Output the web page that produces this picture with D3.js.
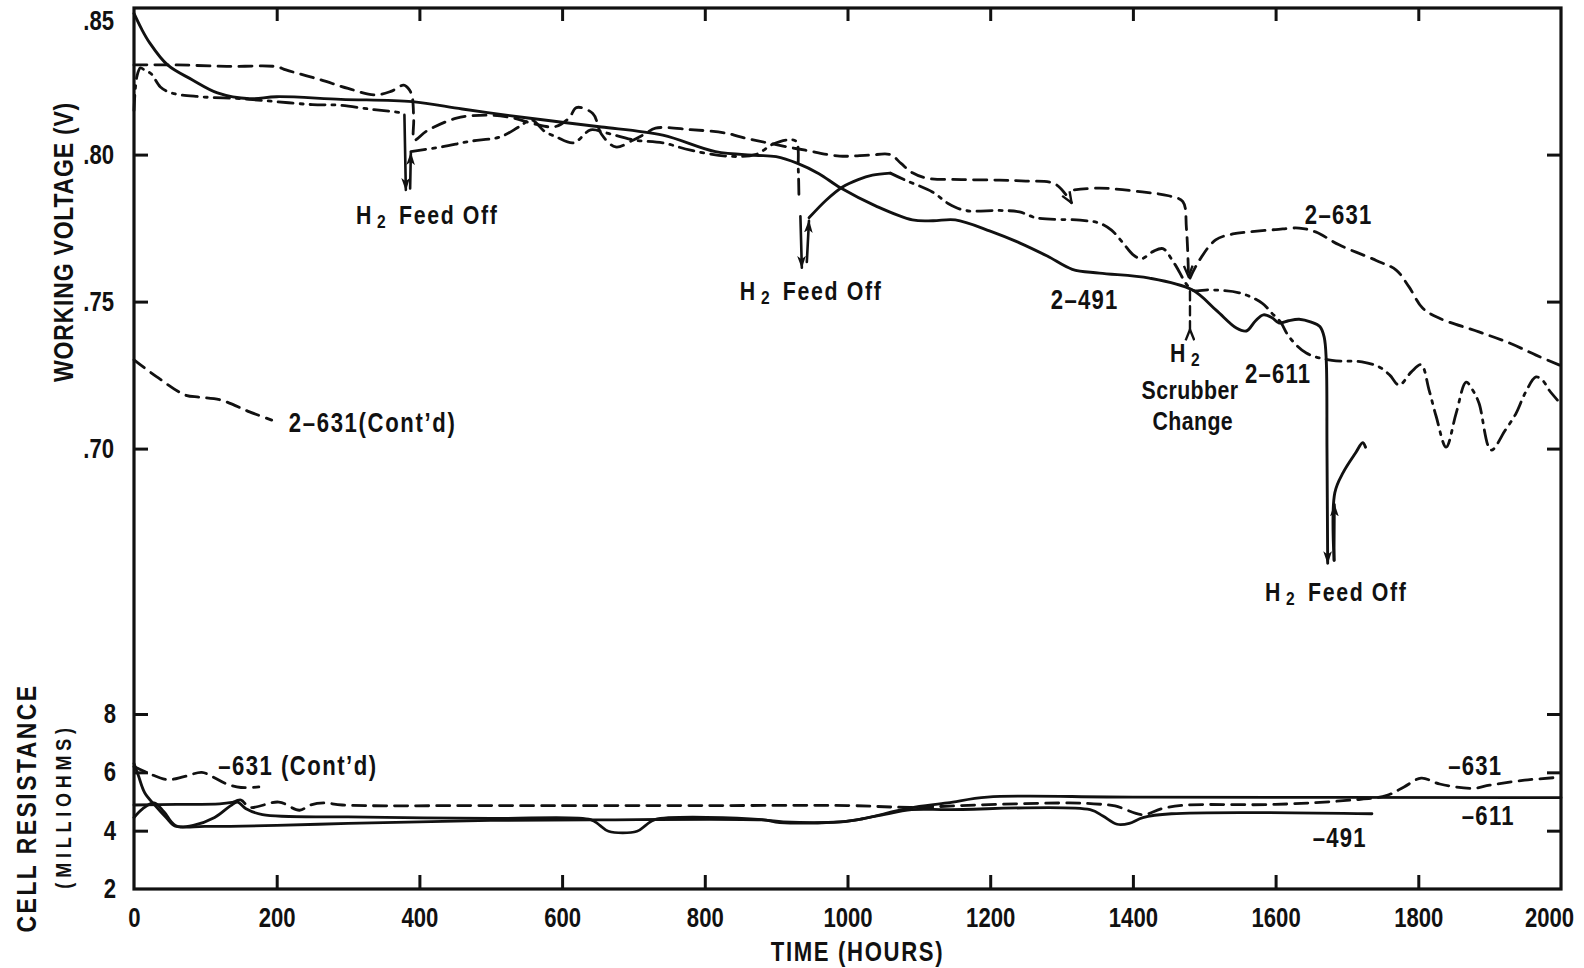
<!DOCTYPE html>
<html><head><meta charset="utf-8">
<script src="https://cdn.jsdelivr.net/npm/d3@7"></script>
<style>
body{margin:0;background:#fff;}
svg text{font-family:"Liberation Sans",Arial,Helvetica,sans-serif;font-weight:bold;fill:#111;}
</style></head><body>
<svg id="c" width="1584" height="968"></svg>
<script>
// ---------- tick values ----------
const hourTicks = [0,200,400,600,800,1000,1200,1400,1600,1800,2000];
const innerHourTicks = [200,400,600,800,1000,1200,1400,1600,1800];
const voltTicks = [0.85,0.80,0.75,0.70];
const resTicks = [2,4,6,8];

// ---------- working voltage (hours, volts) ----------
const v491a = [[0,.848],[10,.843],[22,.838],[47,.8305],[82,.8254],[117,.821],[162,.819],[200,.8197],[290,.8188],[390,.818],[460,.8155],[541,.8128],[600,.811],[655,.8094],[741,.8066],[815,.801],[870,.7998],[900,.7993],[930,.797],[960,.7935],[990,.7887],[1040,.7825],[1091,.7778],[1120,.7775],[1151,.7778],[1200,.774],[1241,.770],[1280,.7655],[1315,.761],[1353,.7597],[1423,.758],[1483,.754],[1517,.747],[1545,.741],[1559,.740],[1572,.7435],[1583,.7455],[1595,.7445],[1605,.7427],[1618,.7435],[1633,.744],[1650,.743],[1662,.7415],[1668,.738],[1671,.730],[1672,.70],[1673,.661]];
const v491b = [[1682,.662],[1683,.685],[1695,.692],[1712,.6985],[1722,.702],[1726,.7005]];

const v611a = [[0,.815],[4,.8265],[9,.8295],[16,.8285],[24,.8275],[37,.823],[52,.821],[92,.8197],[150,.819],[200,.818],[250,.817],[288,.8168],[330,.8155],[363,.8146],[378,.8142]];
const v611b = [[388,.801],[433,.8027],[470,.8045],[513,.806],[540,.8095],[557,.8118],[575,.808],[592,.806],[616,.804],[640,.8084],[660,.8075],[700,.805],[741,.804],[780,.8015],[830,.7995],[871,.800],[895,.8035],[916,.805],[928,.8045],[931,.795],[932,.7846]];
const v611c = [[946,.7785],[970,.7845],[993,.789],[1015,.7915],[1035,.793],[1060,.7937]];
const v611d = [[1060,.7937],[1081,.7913],[1119,.7873],[1141,.7834],[1165,.781],[1213,.781],[1241,.7805],[1266,.7784],[1326,.7777],[1353,.7767],[1370,.7743],[1386,.770],[1400,.766],[1412,.7646],[1428,.767],[1442,.768],[1458,.763],[1483,.754],[1507,.754],[1549,.753],[1581,.7495],[1595,.746],[1607,.743],[1619,.738],[1643,.7325],[1679,.730],[1721,.7295],[1745,.7278],[1760,.725],[1773,.7216],[1790,.726],[1804,.7285],[1815,.72],[1825,.711],[1839,.7005],[1853,.712],[1867,.7226],[1876,.72],[1885,.7155],[1902,.6995],[1922,.7063],[1937,.712],[1950,.719],[1965,.7244],[1975,.723],[1983,.720],[1995,.7165]];

const v631a = [[0,.8305],[60,.8305],[130,.830],[200,.8299],[213,.8288],[262,.8254],[300,.8225],[338,.8203],[360,.8215],[378,.8236],[386,.822],[390,.8195],[392,.812],[393,.805],[410,.808],[452,.8124],[494,.8134],[530,.8125],[560,.8105],[590,.8095],[610,.8125],[620,.816],[643,.814],[655,.807],[675,.8026],[700,.805],[716,.807],[731,.809],[780,.8085],[830,.8073],[850,.806],[916,.8026],[941,.8015],[989,.7995],[1030,.7998],[1060,.80],[1075,.797],[1091,.7938],[1111,.792],[1160,.7915],[1213,.7913],[1250,.791],[1291,.790],[1314,.7836]];
const v631b = [[1318,.788],[1353,.7886],[1413,.7873],[1450,.786],[1470,.784],[1475,.775],[1478,.7585]];
const v631c = [[1480,.758],[1493,.764],[1516,.771],[1540,.773],[1563,.7737],[1600,.7745],[1633,.775],[1656,.7737],[1689,.7693],[1741,.764],[1769,.7607],[1787,.755],[1806,.7478],[1829,.7444],[1885,.7397],[1927,.736],[1965,.7318],[1998,.7284]];
const v631cont = [[0,.7302],[32,.7244],[72,.7182],[92,.7175],[122,.7165],[162,.7125],[193,.7097]];

// event arrows (hours, volts)
const feedOff1Down = [[379,.8135],[381,.788]];
const feedOff1Up = [[387,.7885],[388,.8005]];
const feedOff2Down = [[934,.779],[936,.7615]];
const feedOff2Up = [[943,.7635],[946,.7775]];
const feedOff3Up = [[1682,.662],[1682.5,.681]];
const scrubberMark = [[1480,.7535],[1480,.7405]];

// ---------- cell resistance (hours, milliohms) ----------
const r491 = [[0,6.3],[6,5.9],[15,5.3],[30,4.85],[45,4.45],[58,4.15],[83,4.18],[113,4.45],[135,4.85],[145,4.98],[157,4.75],[180,4.55],[300,4.47],[500,4.42],[640,4.38],[652,4.2],[665,3.98],[705,3.98],[718,4.2],[730,4.38],[880,4.38],[905,4.28],[990,4.3],[1040,4.5],[1090,4.72],[1141,4.72],[1340,4.72],[1358,4.5],[1378,4.22],[1395,4.25],[1414,4.45],[1454,4.58],[1735,4.58]];
const r611 = [[0,4.45],[12,4.75],[28,4.95],[42,4.65],[58,4.18],[100,4.15],[200,4.18],[300,4.25],[400,4.3],[500,4.35],[640,4.37],[880,4.37],[910,4.3],[990,4.3],[1020,4.4],[1086,4.77],[1140,4.95],[1196,5.15],[1400,5.15],[2000,5.13]];
const r631start = [[0,4.88],[60,4.9],[120,4.92],[140,4.98]];
const r631 = [[140,4.98],[150,5.05],[162,4.8],[203,4.98],[232,4.7],[247,4.88],[267,4.95],[292,4.88],[500,4.86],[800,4.86],[1000,4.86],[1090,4.8],[1180,4.88],[1310,4.95],[1345,4.92],[1375,4.85],[1414,4.55],[1440,4.75],[1470,4.87],[1600,4.9],[1706,5.05],[1755,5.2],[1780,5.5],[1804,5.8],[1830,5.6],[1876,5.45],[1900,5.56],[1949,5.73],[1998,5.83]];
const r631cont = [[0,6.2],[22,5.95],[47,5.75],[70,5.85],[95,6.0],[110,5.85],[130,5.6],[150,5.48],[175,5.5]];

// ---------- drawing ----------
const SX = 0.82; // condensed lettering
const svg = d3.select("#c");
const L = 134, R = 1561, T = 8, B = 889;
const x = d3.scaleLinear().domain([0,2000]).range([L,R]);
const yV = d3.scaleLinear().domain([0.70,0.85]).range([448.6,7.6]);
const yR = d3.scaleLinear().domain([2,8]).range([B,714]);

function narrow(sel, rot){
  sel.each(function(){
    const t = d3.select(this);
    const px = +t.attr("x")||0, py = +t.attr("y")||0;
    t.attr("x",null).attr("y",null)
     .attr("transform",`translate(${px},${py})${rot?` rotate(${rot})`:""} scale(${SX},1)`);
  });
}

const defs = svg.append("defs");
function marker(id, orient, open){
  const m = defs.append("marker").attr("id",id).attr("viewBox","0 0 12 10")
    .attr("refX",11).attr("refY",5).attr("markerWidth",13).attr("markerHeight",11)
    .attr("markerUnits","userSpaceOnUse").attr("orient",orient);
  if(open) m.append("path").attr("d","M1,1 L11,5 L1,9").attr("fill","none").attr("stroke","#111").attr("stroke-width",2.2);
  else m.append("path").attr("d","M0,1 L12,5 L0,9 L3,5 Z").attr("fill","#111");
}
marker("arrow","auto",false);
marker("openArrow","auto",true);
marker("upArrow","-90",true);

const lineV = d3.line().x(d=>x(d[0])).y(d=>yV(d[1])).curve(d3.curveCatmullRom.alpha(0.5));
const lineR = d3.line().x(d=>x(d[0])).y(d=>yR(d[1])).curve(d3.curveCatmullRom.alpha(0.5));
const DASH = "13,8", DASHDOT = "15,7,3,7";

function draw(data, gen, dash, w, mk){
  const p = svg.append("path").attr("d", gen(data)).attr("fill","none")
    .attr("stroke","#111").attr("stroke-width", w||2.8)
    .attr("stroke-linejoin","round").attr("stroke-linecap","round");
  if(dash) p.attr("stroke-dasharray", dash);
  if(mk) p.attr("marker-end", "url(#"+mk+")");
  return p;
}

// frame
svg.append("rect").attr("x",L).attr("y",T).attr("width",R-L).attr("height",B-T)
  .attr("fill","none").attr("stroke","#111").attr("stroke-width",3.2);

// axes
function styleAxis(g){
  g.select(".domain").remove();
  g.selectAll(".tick line").attr("stroke","#111").attr("stroke-width",3);
  g.selectAll(".tick text").attr("font-size",27).attr("fill","#111");
}
const gx = svg.append("g").attr("transform",`translate(0,${B})`)
  .call(d3.axisBottom(x).tickValues(hourTicks).tickSize(-14).tickPadding(19).tickFormat(d3.format("d")));
styleAxis(gx);
gx.selectAll(".tick").filter(d=>d===0||d===2000).select("line").remove();
gx.selectAll(".tick").filter(d=>d===2000).select("text").attr("x",-12);
narrow(gx.selectAll(".tick text"));
svg.append("g").attr("transform",`translate(0,${T})`)
  .call(d3.axisTop(x).tickValues(innerHourTicks).tickSize(-13).tickFormat("")).call(styleAxis);

const gyV = svg.append("g").attr("transform",`translate(${L},0)`)
  .call(d3.axisLeft(yV).tickValues(voltTicks).tickSize(-14).tickPadding(20).tickFormat(d=>d3.format(".2f")(d).replace(/^0/,"")));
styleAxis(gyV);
gyV.selectAll(".tick").filter(d=>d===0.85).select("text").attr("y",13);
gyV.selectAll(".tick").filter(d=>d===0.85).select("line").remove();
narrow(gyV.selectAll(".tick text"));
const gyR = svg.append("g").attr("transform",`translate(${L},0)`)
  .call(d3.axisLeft(yR).tickValues(resTicks).tickSize(-14).tickPadding(18).tickFormat(d3.format("d")));
styleAxis(gyR);
gyR.selectAll(".tick").filter(d=>d===2).select("line").remove();
narrow(gyR.selectAll(".tick text"));
svg.append("g").attr("transform",`translate(${R},0)`)
  .call(d3.axisRight(yV).tickValues(voltTicks.slice(1)).tickSize(-14).tickFormat("")).call(styleAxis);
svg.append("g").attr("transform",`translate(${R},0)`)
  .call(d3.axisRight(yR).tickValues([4,6,8]).tickSize(-14).tickFormat("")).call(styleAxis);

// voltage curves
draw(v491a, lineV, null, 2.9, "arrow");
draw(v491b, lineV, null, 2.9);
draw(feedOff3Up, lineV, null, 2.6, "arrow");
draw(v611a, lineV, DASHDOT);
draw(feedOff1Down, lineV, null, 2.6, "arrow");
draw(feedOff1Up, lineV, null, 2.6, "arrow");
draw(v611b, lineV, DASHDOT);
draw(feedOff2Down, lineV, null, 2.6, "arrow");
draw(feedOff2Up, lineV, null, 2.6, "arrow");
draw(v611c, lineV, null, 2.8);
draw(v611d, lineV, DASHDOT);
draw(v631a, lineV, DASH, 2.8, "openArrow");
draw(v631b, lineV, DASH, 2.8, "openArrow");
draw(v631c, lineV, DASH);
draw(v631cont, lineV, DASH);
draw(scrubberMark, lineV, "9,6", 2.4, "upArrow");

// resistance curves
draw(r491, lineR, null, 2.8);
draw(r611, lineR, null, 2.8);
draw(r631start, lineR, null, 2.8);
draw(r631, lineR, DASH);
draw(r631cont, lineR, DASH);

// ---------- text ----------
function label(txt, px, py, opts={}){
  const t = svg.append("text").attr("x",px).attr("y",py)
    .attr("font-size", opts.size||27).attr("letter-spacing", opts.ls==null?1.5:opts.ls)
    .attr("text-anchor", opts.anchor||"start").text(txt);
  narrow(t, opts.rot);
  return t;
}
function h2label(rest, px, py, anchor){
  const t = svg.append("text").attr("x",px).attr("y",py).attr("font-size",26)
    .attr("letter-spacing",2).attr("text-anchor",anchor||"start");
  t.append("tspan").text("H");
  t.append("tspan").attr("font-size",19).attr("dx",5).attr("dy",4).text("2");
  if(rest) t.append("tspan").attr("dx",5).attr("dy",-4).text(rest);
  narrow(t);
  return t;
}
h2label(" Feed Off", x(311), yV(.7764));
h2label(" Feed Off", x(849), yV(.7505));
h2label(" Feed Off", x(1585), yV(.6481));
h2label("", x(1474), yV(.7294), "middle");
label("Scrubber", x(1480), yV(.7169), {anchor:"middle", size:26, ls:0.5});
label("Change", x(1484), yV(.7063), {anchor:"middle", size:26, ls:0.5});
label("2–491", x(1285), yV(.7475));
label("2–631", x(1641), yV(.7764));
label("2–611", x(1557), yV(.7223));
label("2–631(Cont’d)", x(217), yV(.7056), {ls:2});
label("–631 (Cont’d)", x(118), yR(5.91), {ls:1.8});
label("–631", x(1842), yR(5.91));
label("–611", x(1861), yR(4.19));
label("–491", x(1652), yR(3.44));

// axis titles
label("WORKING VOLTAGE (V)", 73, yV(.7703), {anchor:"middle", size:28, ls:1, rot:-90});
label("CELL RESISTANCE", 36, yR(4.78), {anchor:"middle", size:28, ls:3, rot:-90});
label("(MILLIOHMS)", 71, yR(4.85), {anchor:"middle", size:22, ls:5.8, rot:-90});
label("TIME (HOURS)", x(1014), 961, {anchor:"middle", size:27, ls:2});
</script>
</body></html>
